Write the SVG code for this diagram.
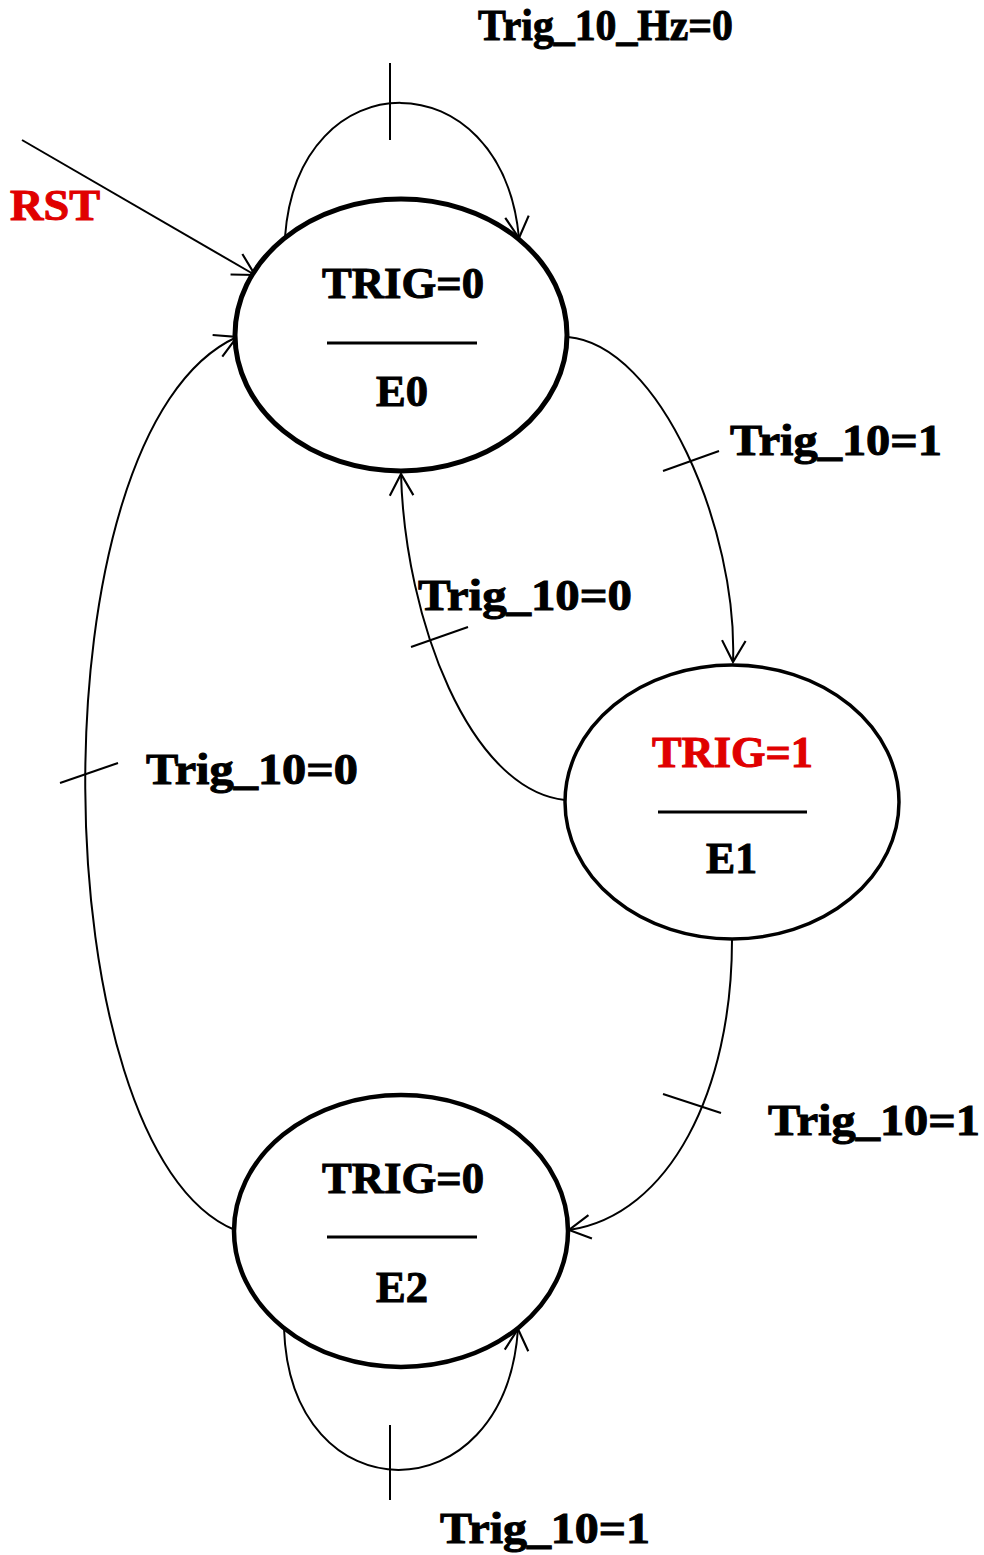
<svg xmlns="http://www.w3.org/2000/svg" width="984" height="1555" viewBox="0 0 984 1555">
<style>
.st{fill:#fff;stroke:#000}
.dv{stroke:#000;stroke-width:3}
.t{font-family:"Liberation Serif","Times New Roman",serif;font-weight:bold;font-size:44px;fill:#000;stroke:#000;stroke-width:1}
.r{fill:#e00000;stroke:#e00000}
.c{fill:none;stroke:#000;stroke-width:2}
</style>
<defs>
<marker id="ah" markerUnits="userSpaceOnUse" markerWidth="30" markerHeight="30" viewBox="-24 -12 28 24" refX="0" refY="0" orient="auto">
<path d="M-20,-11 L0,0 L-20,11" fill="none" stroke="#000" stroke-width="2"/>
</marker>
</defs>
<rect width="984" height="1555" fill="#fff"/>
<g id="connectors">
<path class="c" d="M22,140 L255,275" marker-end="url(#ah)"/>
<text class="t r" x="10" y="220" textLength="90" lengthAdjust="spacingAndGlyphs">RST</text>
<path class="c" d="M285,237 C298,58 502,58 519,238" marker-end="url(#ah)"/>
<line class="c" x1="390" y1="63" x2="390" y2="140"/>
<text class="t" x="478" y="40" textLength="255" lengthAdjust="spacingAndGlyphs">Trig_10_Hz=0</text>
<path class="c" d="M568,337 C660,345 738,530 733,662" marker-end="url(#ah)"/>
<line class="c" x1="663" y1="471" x2="719" y2="451"/>
<text class="t" x="730" y="455" textLength="212" lengthAdjust="spacingAndGlyphs">Trig_10=1</text>
<path class="c" d="M565,800 C470,790 405,620 401,474" marker-end="url(#ah)"/>
<line class="c" x1="411" y1="647" x2="468" y2="627"/>
<text class="t" x="418" y="610" textLength="214" lengthAdjust="spacingAndGlyphs">Trig_10=0</text>
<path class="c" d="M235,1230 C40,1150 30,430 237,337" marker-end="url(#ah)"/>
<line class="c" x1="60" y1="783" x2="118" y2="763"/>
<text class="t" x="146" y="784" textLength="212" lengthAdjust="spacingAndGlyphs">Trig_10=0</text>
<path class="c" d="M732,940 C732,1090 670,1215 569,1230" marker-end="url(#ah)"/>
<line class="c" x1="663" y1="1094" x2="721" y2="1113"/>
<text class="t" x="768" y="1135" textLength="212" lengthAdjust="spacingAndGlyphs">Trig_10=1</text>
<path class="c" d="M284,1328 C290,1517 505,1517 518,1329" marker-end="url(#ah)"/>
<line class="c" x1="390" y1="1425" x2="390" y2="1500"/>
<text class="t" x="440" y="1543" textLength="210" lengthAdjust="spacingAndGlyphs">Trig_10=1</text>
</g>
<g id="E0">
<ellipse class="st" cx="401" cy="335" rx="166" ry="136" stroke-width="5"/>
<text class="t" x="322" y="298" textLength="162" lengthAdjust="spacingAndGlyphs">TRIG=0</text>
<line class="dv" x1="327" y1="343" x2="477" y2="343"/>
<text class="t" x="376" y="406" textLength="52" lengthAdjust="spacingAndGlyphs">E0</text>
</g>
<g id="E1">
<ellipse class="st" cx="732" cy="802" rx="167" ry="137" stroke-width="3.5"/>
<text class="t r" x="652" y="767" textLength="161" lengthAdjust="spacingAndGlyphs">TRIG=1</text>
<line class="dv" x1="658" y1="812" x2="807" y2="812"/>
<text class="t" x="706" y="873" textLength="51" lengthAdjust="spacingAndGlyphs">E1</text>
</g>
<g id="E2">
<ellipse class="st" cx="401" cy="1231" rx="167" ry="136" stroke-width="4.5"/>
<text class="t" x="322" y="1193" textLength="162" lengthAdjust="spacingAndGlyphs">TRIG=0</text>
<line class="dv" x1="327" y1="1237" x2="477" y2="1237"/>
<text class="t" x="376" y="1302" textLength="52" lengthAdjust="spacingAndGlyphs">E2</text>
</g>
</svg>
